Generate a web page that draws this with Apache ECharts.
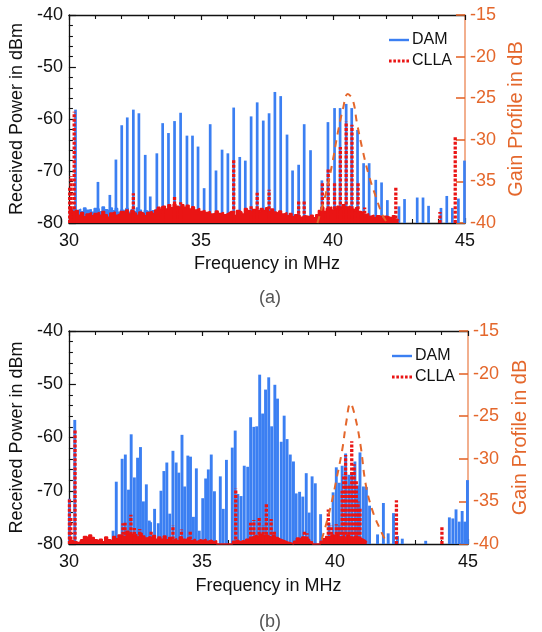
<!DOCTYPE html>
<html><head><meta charset="utf-8">
<script src="https://cdn.jsdelivr.net/npm/echarts@6/dist/echarts.min.js"></script>
<style>html,body{margin:0;padding:0;background:#fff}#c{width:542px;height:632px}</style>
</head><body><div id="c"></div>
<script>
// ---------- DATA ----------
const noiseStart = 30.0, noiseStep = 0.1;

// (a) DAM spectral lines
const topDamFreq = [30.25,31.1,31.55,31.78,32.0,32.21,32.44,32.65,32.89,33.08,33.33,33.55,33.77,34.0,34.23,34.47,34.68,34.89,35.12,35.35,35.57,35.8,36.02,36.24,36.47,36.68,36.9,37.13,37.36,37.58,37.8,38.02,38.26,38.47,38.7,38.91,39.15,39.58,39.81,40.06,40.27,40.5,40.71,40.93,41.16,41.37,41.62,41.84,42.06,42.5,42.71,43.19,43.41,43.62,44.09,44.31,44.52,44.75,44.98];
const topDamPower = [-58.2,-72.1,-74.6,-67.8,-61.2,-59.7,-58.2,-58.9,-66.9,-74.9,-66.6,-60.8,-62.7,-60.4,-58.8,-63.2,-63.2,-65.3,-73.3,-61.0,-69.9,-65.9,-66.6,-57.8,-67.3,-68.0,-59.5,-56.8,-60.3,-58.9,-54.8,-55.6,-63.0,-69.9,-68.8,-61.0,-66.0,-71.8,-60.6,-57.9,-57.9,-57.1,-57.9,-62.1,-68.5,-68.5,-71.7,-72.2,-75.6,-76.8,-75.4,-75.1,-75.1,-76.7,-77.1,-74.8,-77.1,-75.3,-68.0];
// (a) CLLA spectral lines
const topCllaFreq = [30.03,30.08,30.2,32.44,33.55,34.0,34.23,36.24,36.9,37.13,37.58,38.7,38.91,39.6,39.82,40.06,40.28,40.5,40.72,40.95,41.2,42.38,44.05,44.63];
const topCllaPower = [-73,-71,-58.6,-74.3,-76.5,-74.8,-76,-67.8,-76.5,-74.2,-73.6,-75.6,-75.7,-72.1,-69.4,-72.3,-65.4,-60.5,-61.1,-72,-77,-73.1,-77.9,-63.3];
// (a) noise floors, one value per 0.1 MHz from 30.0 MHz
const topCllaNoise = [-77.5,-77.2,-78,-77.6,-78.5,-78,-78.8,-78.3,-78,-78.6,
 -78.2,-78,-78.5,-77.8,-78.4,-78.9,-78.1,-77.9,-78.5,-78.2,
 -77.8,-78,-77.5,-78.3,-77.6,-78.1,-78.5,-77.9,-78.2,-78.6,
 -78,-77.8,-78.2,-77.5,-77,-77.4,-76.8,-77.3,-76.5,-77.1,
 -76.4,-76.8,-77.2,-76.5,-77,-76.6,-77.3,-76.9,-77.5,-77.2,
 -77.8,-77.6,-78,-77.8,-78.3,-78.1,-77.7,-78.2,-78,-78.4,
 -78.1,-77.8,-78,-78.5,-77.6,-77.9,-78.3,-77.2,-77.6,-77.9,
 -77.4,-77.5,-77.8,-77.2,-77.6,-77.1,-77.8,-77.3,-77.9,-78.2,
 -77.7,-78.3,-78,-78.6,-78.2,-78.8,-78.4,-78.5,-78.9,-78.6,
 -78.7,-78.9,-78.5,-79,-78.4,-77.6,-77,-77.8,-77.2,-76.9,
 -77.5,-77.2,-76.8,-77.4,-76.5,-77,-76.8,-77.3,-77.6,-77.1,
 -77.8,-78,-78.4,-78.2,-78.7,-78.5,-79,-78.6,-78.8,-79.2,
 -78.7,-78.9,-79.1,-78.6,-79.3,-79.5];
const topDamNoise = [-77,-77.5,-77.2,-77.6,-77.3,-77.8,-77.1,-77.5,-77.4,-77.9,
 -77.2,-77.3,-77.8,-76.9,-77.4,-77.7,-77.1,-77.6,-77.2,-77.9,
 -77.5,-77.6,-77.2,-77.9,-77.4,-77.8,-77.1,-77.5,-78,-77.6,
 -77.9,-78,-77.6,-78.2,-77.9,-78.3,-78,-78.4,-78.1,-78.5,
 -78.2,-78.6,-78.3,-78.7,-78.4,-78.8,-78.5,-78.9,-78.6,-79,-78.7];
// (a) gain profile
const topGainFreq = [39.41,39.75,40.0,40.18,40.37,40.56,40.75,40.91,41.12,41.37,41.62,41.87,42.06];
const topGain = [-40,-36.2,-32.4,-29.2,-26.4,-24.5,-25.2,-28,-31.2,-34.4,-36.8,-39,-40];

// (b) DAM spectral lines
const botDamFreq = [30.02,30.22,31.66,31.78,32.0,32.12,32.24,32.34,32.46,32.58,32.69,32.8,32.91,33.02,33.07,33.22,33.36,33.46,33.57,33.68,33.79,33.91,34.03,34.13,34.25,34.35,34.47,34.57,34.68,34.79,34.9,35.03,35.14,35.24,35.35,35.47,35.69,35.8,35.92,36.14,36.25,36.35,36.47,36.59,36.72,36.83,36.95,37.06,37.17,37.28,37.39,37.51,37.62,37.74,37.84,37.98,38.09,38.2,38.32,38.44,38.54,38.67,38.79,38.92,39.03,39.14,39.26,39.46,39.78,39.93,40.05,40.16,40.27,40.4,40.52,40.63,40.75,40.85,40.94,41.07,41.18,41.3,41.6,41.82,42.0,42.2,42.35,42.53,43.41,44.3,44.43,44.55,44.67,44.78,44.88,44.98];
const botDamPower = [-71.5,-56.7,-77.5,-68.3,-64,-63.2,-69.8,-59.4,-67.5,-63.8,-61.8,-72,-68.8,-75.6,-75.9,-73.4,-76.1,-70,-66.3,-64.7,-74.3,-62.5,-64.7,-66.6,-59.5,-69.2,-63.4,-63.6,-74.9,-65.8,-77.5,-71.4,-67.7,-66,-63.2,-70.1,-67.3,-73.4,-64.2,-61.9,-58.7,-70.6,-71,-65.3,-65.5,-56.2,-58,-57.9,-48.2,-55.5,-51,-48.7,-57.9,-50.1,-52.7,-60.8,-55.9,-60.3,-63.2,-64.5,-70.5,-70.2,-71.1,-66.7,-74.1,-67.3,-68.6,-74.4,-76,-70.3,-65.6,-68.5,-65.3,-63,-67,-66.5,-64.5,-69,-62.8,-69.2,-69.3,-72.8,-78.2,-72.3,-78,-74.2,-78.5,-79,-79.4,-75,-75.2,-73.5,-75.8,-73.8,-75.8,-68];
// (b) CLLA spectral lines
const botCllaFreq = [30.02,30.07,30.23,32.03,32.11,32.33,32.46,32.66,33.09,33.91,34.23,34.56,36.27,36.83,36.95,37.15,37.3,37.42,37.6,37.72,38.85,38.95,39.75,39.87,40.05,40.17,40.27,40.33,40.4,40.52,40.63,40.72,40.8,40.87,40.94,42.31,44.02];
const botCllaPower = [-71.4,-75,-58.4,-76.1,-76,-74.5,-77,-77.2,-77.5,-76.5,-77.3,-77.5,-69.6,-76,-75.5,-75,-76.5,-72.5,-75.3,-77.5,-77.5,-78,-73.5,-76.5,-76.3,-76.5,-70,-67,-63.3,-69,-60.7,-65,-68,-72,-73.4,-71.8,-76.7];
const botCllaNoise = [-79,-79.3,-79.5,-79.6,-79.8,-79.2,-78.6,-78.9,-78.3,-78.8,
 -79.2,-79.5,-79.1,-79.6,-78.7,-79.2,-79.5,-78.6,-79,-78.3,
 -78.5,-78.8,-77.6,-78.1,-78.4,-78.2,-78.7,-78,-78.5,-78.9,
 -78.6,-79,-78.4,-79.1,-78.7,-79.1,-78.5,-79.2,-78.8,-79.3,
 -79,-79.4,-78.7,-79.1,-79.3,-78.9,-79.4,-79.1,-79.5,-79.2,
 -79.4,-79.1,-79.5,-79.3,-79.6,-79.4,-80,-80,-80,-80,
 -80,-80,-79.5,-79.3,-79.6,-79.4,-79.5,-79.1,-78.9,-78.6,
 -78.4,-78.7,-78.2,-78.5,-78.3,-78.6,-78.9,-78.4,-78.8,-79.1,
 -79.3,-79.5,-79.7,-79.8,-80,-79.5,-78.9,-79.1,-78.7,-79,
 -79.2,-79.6,-80,-80,-80,-79.5,-79,-78.6,-78.8,-78.3,
 -78.6,-78.2,-78.7,-78.4,-78.9,-78.3,-78.7,-79,-78.5,-78.9,
 -79.1,-79.4,-79.7];
// (b) gain profile
const botGainFreq = [39.5,39.63,39.87,40.05,40.27,40.42,40.58,40.76,40.97,41.15,41.4,41.7,41.95];
const botGain = [-39.5,-38.1,-35.2,-32.5,-29,-25.8,-23.5,-25.1,-28.6,-32.9,-36,-38.3,-39.9];

const freqTicks = [30, 35, 40, 45];
const powerTicks = [-80, -70, -60, -50, -40];
const gainTicks = [-40, -35, -30, -25, -20, -15];

// ---------- STYLE ----------
const FONT = 'Liberation Sans, Arial, sans-serif';
const BLUE = '#3b7ff2', RED = '#ea1414', ORANGE = '#e4672c', ORANGE_AXIS = '#ee9468';
const pairs = (xs, ys) => xs.map((x, i) => [x, ys[i]]);
const noisePairs = arr => arr.map((v, i) => [+(noiseStart + i * noiseStep).toFixed(2), v]);

function spikeRenderer(color, width, dash) {
  return function (params, api) {
    const x = api.value(0), y = api.value(1);
    const p0 = api.coord([x, -80]);
    const p1 = api.coord([x, y]);
    return {type: 'line', shape: {x1: p0[0], y1: p0[1], x2: p1[0], y2: p1[1]},
      style: {stroke: color, lineWidth: width, lineDash: dash || null}};
  };
}

function xAxes(grid) {
  const common = {type: 'value', gridIndex: grid, min: freqTicks[0], max: freqTicks[freqTicks.length - 1], interval: 5,
    splitLine: {show: false},
    axisLine: {show: true, lineStyle: {color: '#111', width: 1.3}},
    axisTick: {show: true, inside: true, length: 5, lineStyle: {color: '#111', width: 1.2}},
    minorTick: {show: true, splitNumber: 5, length: 4, lineStyle: {color: '#111', width: 1.1}}};
  return [
    Object.assign({}, common, {position: 'bottom',
      axisLabel: {fontSize: 18, color: '#111', fontFamily: FONT, margin: 9},
      name: 'Frequency in MHz', nameLocation: 'middle', nameGap: grid === 0 ? 32 : 33,
      nameTextStyle: {fontSize: 18, color: '#111', fontFamily: FONT}}),
    Object.assign({}, common, {position: 'top', axisLabel: {show: false}})
  ];
}
function yAxes(grid, leftGap, rightGap) {
  return [
    {type: 'value', gridIndex: grid, position: 'left', min: -80, max: -40, interval: 10,
      splitLine: {show: false},
      axisLine: {show: true, lineStyle: {color: '#111', width: 1.3}},
      axisTick: {show: true, inside: true, length: 7, lineStyle: {color: '#111', width: 1.2}},
      minorTick: {show: true, splitNumber: 5, length: 4, lineStyle: {color: '#111', width: 1.1}},
      axisLabel: {fontSize: 18, color: '#111', fontFamily: FONT, margin: 6},
      name: 'Received Power in dBm', nameLocation: 'middle', nameGap: leftGap, nameRotate: 90,
      nameTextStyle: {fontSize: 18, color: '#111', fontFamily: FONT}},
    {type: 'value', gridIndex: grid, position: 'right', min: -40, max: -15, interval: 5,
      splitLine: {show: false},
      axisLine: {show: true, lineStyle: {color: ORANGE_AXIS, width: 1.5}},
      axisTick: {show: true, inside: true, length: 9, lineStyle: {color: ORANGE, width: 1.6}},
      axisLabel: {fontSize: 18, color: ORANGE, fontFamily: FONT, margin: 5},
      name: 'Gain Profile in dB', nameLocation: 'middle', nameGap: rightGap, nameRotate: 90,
      nameTextStyle: {fontSize: 20, color: ORANGE, fontFamily: FONT}}
  ];
}

function seriesFor(grid, damF, damP, cllaF, cllaP, damNoise, cllaNoise, gF, g, damWidth) {
  const xi = grid * 2, yi = grid * 2;
  const out = [];
  if (damNoise) out.push({type: 'line', name: 'DAM floor', xAxisIndex: xi, yAxisIndex: yi,
    data: noisePairs(damNoise), step: 'middle', symbol: 'none', silent: true,
    lineStyle: {width: 1.2, color: BLUE}, areaStyle: {origin: 'start', color: BLUE, opacity: 1}, z: 1});
  out.push({type: 'custom', name: 'DAM', xAxisIndex: xi, yAxisIndex: yi, itemStyle: {color: BLUE},
    renderItem: spikeRenderer(BLUE, damWidth), data: pairs(damF, damP), z: 2});
  out.push({type: 'line', name: 'CLLA floor', xAxisIndex: xi, yAxisIndex: yi,
    data: noisePairs(cllaNoise), step: 'middle', symbol: 'none', silent: true,
    lineStyle: {width: 1.6, color: RED}, areaStyle: {origin: 'start', color: RED, opacity: 1}, z: 3});
  out.push({type: 'custom', name: 'CLLA', xAxisIndex: xi, yAxisIndex: yi, itemStyle: {color: RED},
    renderItem: spikeRenderer(RED, 3.3, [3, 1.6]), data: pairs(cllaF, cllaP), z: 4});
  out.push({type: 'line', name: 'Gain', xAxisIndex: xi, yAxisIndex: yi + 1, data: pairs(gF, g),
    smooth: 0.4, symbol: 'none', silent: true,
    lineStyle: {color: ORANGE, width: 2, type: [7, 6]}, z: 5});
  return out;
}

const dotIcon = 'path://M0 0h2.6v3h-2.6zM4.35 0h2.6v3h-2.6zM8.7 0h2.6v3h-2.6zM13.05 0h2.6v3h-2.6zM17.4 0h2.6v3h-2.6z';
function legendAt(left, top) {
  return {left: left, top: top, orient: 'vertical', itemWidth: 20, itemHeight: 3, itemGap: 5,
    textStyle: {fontSize: 16, color: '#111', fontFamily: FONT, padding: [0, 0, 0, -2]},
    data: [{name: 'DAM', icon: 'path://M0 0h20v2.4h-20z'}, {name: 'CLLA', icon: dotIcon}]};
}

const chart = echarts.init(document.getElementById('c'), null, {renderer: 'canvas'});
chart.setOption({
  animation: false,
  backgroundColor: '#fff',
  title: [
    {text: '(a)', left: 254, top: 284, textStyle: {fontSize: 18, fontWeight: 'normal', color: '#555', fontFamily: FONT}},
    {text: '(b)', left: 254, top: 608, textStyle: {fontSize: 18, fontWeight: 'normal', color: '#555', fontFamily: FONT}}
  ],
  legend: [legendAt(384, 27), legendAt(387, 343)],
  grid: [
    {left: 65, top: 15, width: 400, height: 208},
    {left: 59, top: 331, width: 409, height: 213}
  ],
  xAxis: xAxes(0).concat(xAxes(1)),
  yAxis: yAxes(0, 38, 37).concat(yAxes(1, 38, 42)),
  series: seriesFor(0, topDamFreq, topDamPower, topCllaFreq, topCllaPower, topDamNoise, topCllaNoise, topGainFreq, topGain, 2.7)
    .concat(seriesFor(1, botDamFreq, botDamPower, botCllaFreq, botCllaPower, null, botCllaNoise, botGainFreq, botGain, 2.9))
});
</script>
</body></html>
